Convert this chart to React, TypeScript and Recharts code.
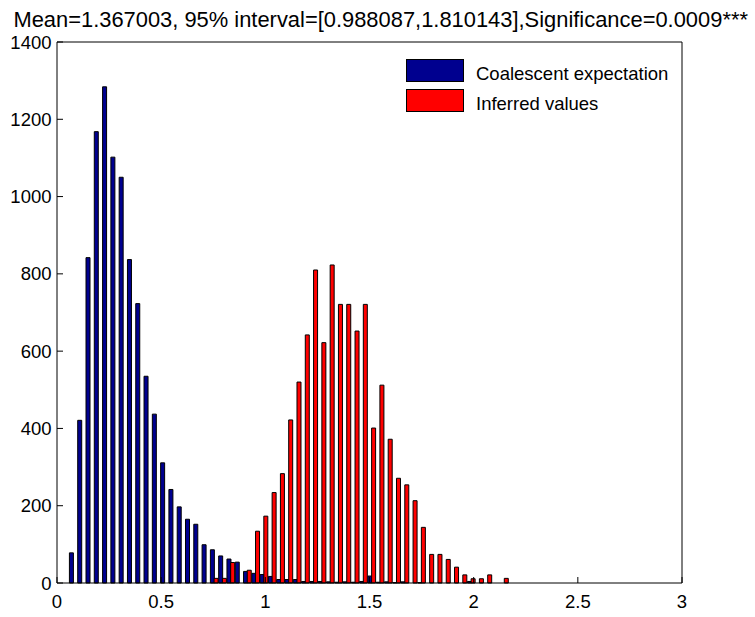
import React from "react";
import { BarChart, Bar, XAxis, YAxis, Legend } from "recharts";

// Histogram bin centres (shared by both series)
const binCenters = [
  0.0795, 0.1193, 0.1591, 0.1989, 0.2387, 0.2785, 0.3183, 0.3581, 0.3979, 0.4377,
  0.4775, 0.5173, 0.5571, 0.5969, 0.6367, 0.6765, 0.7163, 0.7561, 0.7959, 0.8357,
  0.8755, 0.9153, 0.9551, 0.9949, 1.0347, 1.0745, 1.1143, 1.1541, 1.1939, 1.2337,
  1.2735, 1.3133, 1.3531, 1.3929, 1.4327, 1.4725, 1.5123, 1.5521, 1.5919, 1.6317,
  1.6715, 1.7113, 1.7511, 1.7909, 1.8307, 1.8705, 1.9103, 1.9501, 1.9899, 2.0297,
  2.0695, 2.1093, 2.1491,
];

const coalescentCounts = [
  78, 421, 842, 1168, 1284, 1102, 1050, 837, 723, 535,
  437, 311, 242, 197, 165, 152, 99, 86, 70, 62,
  54, 30, 25, 22, 17, 9, 9, 9, 4, 4,
  4, 3, 2, 3, 2, 4, 18, 2, 3, 1,
  3, 0, 1, 0, 0, 0, 0, 0, 4, 0,
  0, 0, 0,
];

const inferredCounts = [
  0, 0, 0, 0, 0, 0, 0, 0, 0, 0,
  0, 0, 0, 0, 0, 0, 0, 12, 12, 53,
  0, 33, 134, 173, 234, 283, 422, 520, 642, 810,
  622, 823, 721, 721, 652, 721, 401, 512, 372, 271,
  254, 213, 144, 74, 74, 61, 41, 21, 11, 11,
  21, 0, 12,
];

const xTicks = [0, 0.5, 1, 1.5, 2, 2.5, 3];
const yTicks = [0, 200, 400, 600, 800, 1000, 1200, 1400];
const seriesNames = ["Coalescent expectation", "Inferred values"];
const seriesColors = ["#00008f", "#ff0000"];
const titleText =
  "Mean=1.367003, 95% interval=[0.988087,1.810143],Significance=0.0009***";

const FONT = '"Liberation Sans", Arial, Helvetica, sans-serif';

const data = binCenters.map((x, i) => ({
  x,
  coalescent: coalescentCounts[i],
  inferred: inferredCounts[i],
}));

const tickStyle = { fill: "#000", fontSize: 18.5, fontFamily: FONT };
const lineStyle = { stroke: "#000", strokeWidth: 1 };

// MATLAB-style legend: big flat swatches, no frame
function MatlabLegend(props: any) {
  const items =
    props.payload && props.payload.length
      ? props.payload
      : seriesNames.map((n, i) => ({ value: n, color: seriesColors[i] }));
  return (
    <svg width={300} height={64} style={{ display: "block" }}>
      {items.map((entry: any, i: number) => (
        <g key={entry.value} transform={`translate(0, ${i * 30})`}>
          <rect
            x={0.5}
            y={0.5}
            width={57}
            height={22}
            fill={entry.color}
            stroke="#000"
            strokeWidth={1}
          />
          <text
            x={70}
            y={21}
            fontSize={18.5}
            fontFamily={FONT}
            fill="#000"
          >
            {entry.value}
          </text>
        </g>
      ))}
    </svg>
  );
}

export default function App() {
  return (
    <div
      style={{
        position: "absolute",
        left: 0,
        top: 0,
        width: 755,
        height: 617,
        background: "#fff",
      }}
    >
      <BarChart
        width={755}
        height={617}
        data={data}
        margin={{ top: 41, right: 72, bottom: 0, left: 0 }}
        barGap={-0.3}
      >
        <XAxis
          dataKey="x"
          type="number"
          domain={[0, 3]}
          ticks={xTicks}
          height={34}
          tickSize={-6}
          tickMargin={18}
          tick={tickStyle}
          axisLine={lineStyle}
          tickLine={lineStyle}
        />
        {/* box: top edge with inward ticks */}
        <XAxis
          xAxisId="top"
          orientation="top"
          type="number"
          domain={[0, 3]}
          ticks={xTicks}
          height={1}
          tickSize={-6}
          tick={false}
          axisLine={lineStyle}
          tickLine={lineStyle}
        />
        <YAxis
          type="number"
          domain={[0, 1400]}
          ticks={yTicks}
          width={57}
          tickSize={-6}
          tickMargin={11.5}
          tick={tickStyle}
          axisLine={lineStyle}
          tickLine={lineStyle}
        />
        {/* box: right edge with inward ticks */}
        <YAxis
          yAxisId="right"
          orientation="right"
          type="number"
          domain={[0, 1400]}
          ticks={yTicks}
          width={1}
          tickSize={-6}
          tick={false}
          axisLine={lineStyle}
          tickLine={lineStyle}
        />
        <Legend
          layout="vertical"
          align="center"
          verticalAlign="middle"
          content={<MatlabLegend />}
          wrapperStyle={{ left: 405.5, top: 58.8, width: 300 }}
        />
        <Bar
          dataKey="coalescent"
          name={seriesNames[0]}
          fill={seriesColors[0]}
          stroke="#000"
          strokeWidth={1}
          barSize={4}
          isAnimationActive={false}
        />
        <Bar
          dataKey="inferred"
          name={seriesNames[1]}
          fill={seriesColors[1]}
          stroke="#000"
          strokeWidth={1}
          barSize={4}
          isAnimationActive={false}
        />
      </BarChart>
      <svg
        width={755}
        height={40}
        style={{ position: "absolute", left: 0, top: 0, pointerEvents: "none" }}
      >
        <text
          x={380.7}
          y={26.5}
          textAnchor="middle"
          fontSize={21.9}
          fontFamily={FONT}
          fill="#000"
        >
          {titleText}
        </text>
      </svg>
    </div>
  );
}
